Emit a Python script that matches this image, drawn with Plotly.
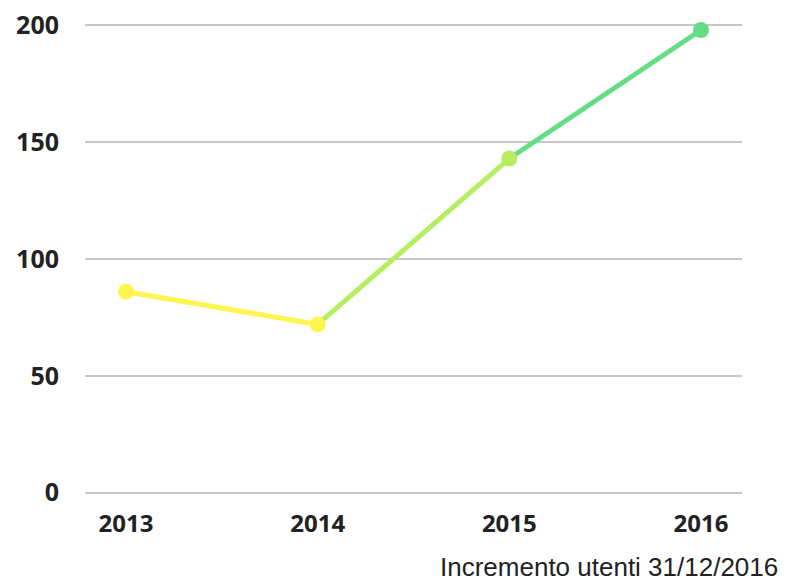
import plotly.graph_objects as go

years = ['2013', '2014', '2015', '2016']
users = [86, 72, 143, 198]
point_colors = ['#FFF550', '#FFF550', '#B5EE60', '#64DD87']
# each segment takes the colour of the point it ends on
segment_colors = point_colors[1:]
y_ticks = [0, 50, 100, 150, 200]
caption = 'Incremento utenti 31/12/2016'

fig = go.Figure()

for i, color in enumerate(segment_colors):
    fig.add_trace(go.Scatter(
        x=years[i:i + 2], y=users[i:i + 2], mode='lines',
        line=dict(color=color, width=5), cliponaxis=False, hoverinfo='skip'
    ))

fig.add_trace(go.Scatter(
    x=years, y=users, mode='markers',
    marker=dict(color=point_colors, size=16), cliponaxis=False
))

fig.add_annotation(
    text=caption, xref='paper', yref='paper', x=1.058, y=-0.176, yshift=-6,
    xanchor='right', yanchor='bottom', showarrow=False,
    font=dict(family='Liberation Sans', size=26, color='#222222')
)

fig.update_xaxes(
    type='category', range=[-0.214, 3.214], showgrid=False, zeroline=False,
    showline=False, automargin=False, ticks='outside', ticklen=7,
    tickcolor='rgba(0,0,0,0)', ticklabeloverflow='allow',
    tickfont=dict(family='Open Sans', size=24, color='#222222', weight='bold')
)
fig.update_yaxes(
    range=[-1, 201], tickvals=y_ticks, showgrid=True, gridcolor='#c8c8c8',
    gridwidth=2, zeroline=False, showline=False, automargin=False,
    ticks='outside', ticklen=20, tickcolor='rgba(0,0,0,0)',
    ticklabeloverflow='allow',
    tickfont=dict(family='Open Sans', size=25, color='#222222', weight='bold')
)

# the page body adds an 8px offset, so the figure is 8px smaller
fig.update_layout(
    width=783, height=570, showlegend=False,
    plot_bgcolor='white', paper_bgcolor='white',
    margin=dict(l=77, r=49, t=15, b=83)
)

fig.write_html("out.html")
